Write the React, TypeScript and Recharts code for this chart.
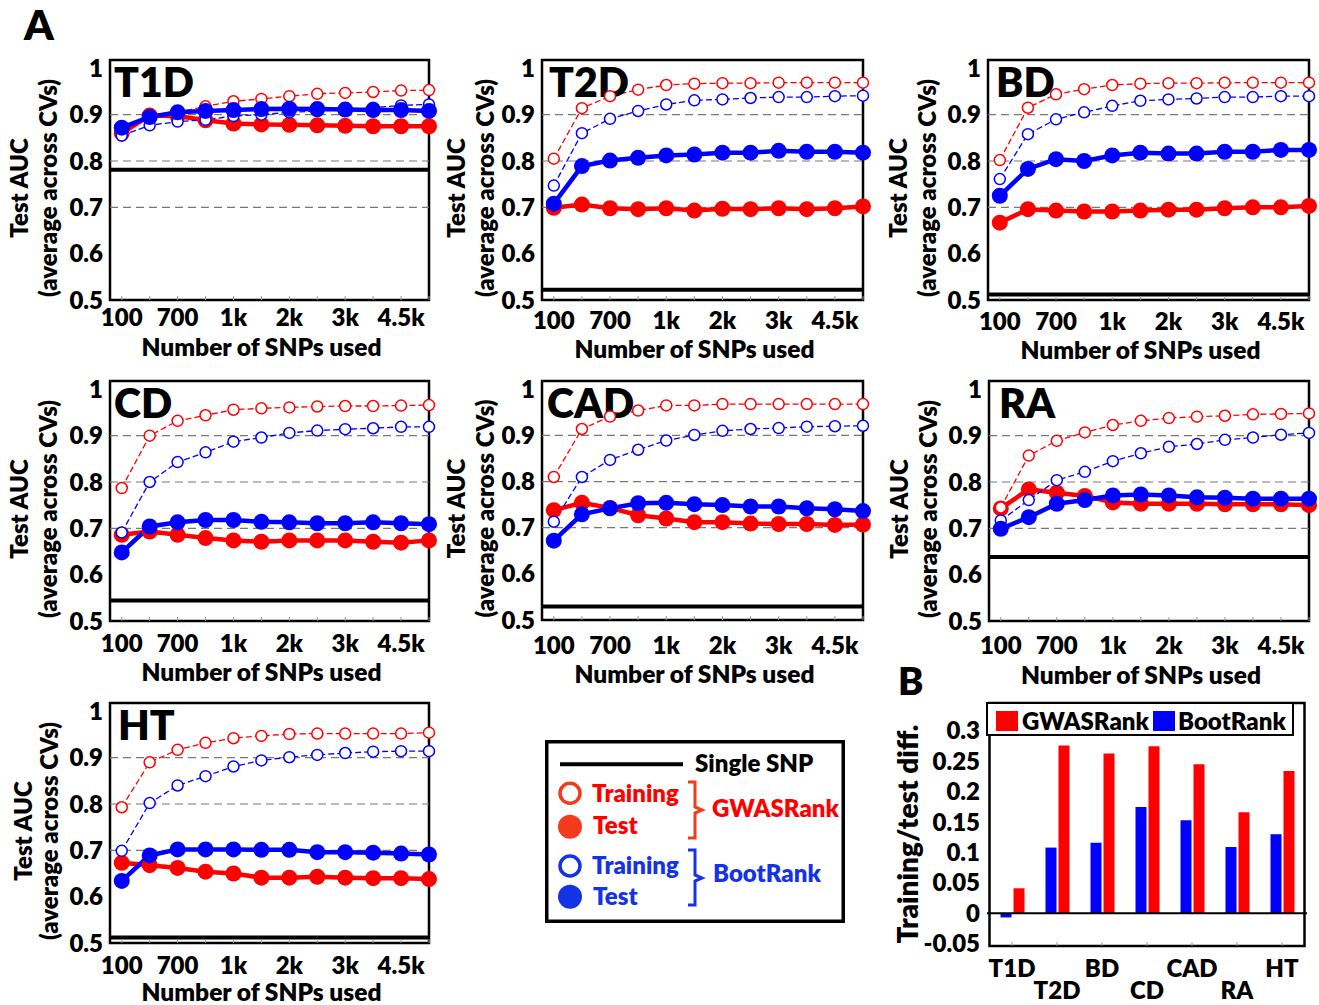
import React from 'react';
import { LineChart, Line, XAxis, YAxis, ReferenceLine, ReferenceArea, BarChart, Bar } from 'recharts';

const FONT = "Lato, 'Open Sans', sans-serif";
const FW = 800;
const RED = '#ff0000';
const BLUE = '#0000ff';

// ---------- data ----------
const snpIndex = [0, 1, 2, 3, 4, 5, 6, 7, 8, 9, 10, 11];
const xTickLabels = ['100', '', '700', '', '1k', '', '2k', '', '3k', '', '4.5k', ''];
const aucTicks = [0.5, 0.6, 0.7, 0.8, 0.9, 1];

const t1dGwasTrain = [0.855, 0.900, 0.905, 0.918, 0.929, 0.934, 0.940, 0.945, 0.947, 0.949, 0.952, 0.953];
const t1dGwasTest = [0.860, 0.898, 0.897, 0.888, 0.881, 0.879, 0.878, 0.877, 0.876, 0.875, 0.875, 0.875];
const t1dBootTrain = [0.855, 0.877, 0.885, 0.889, 0.897, 0.900, 0.905, 0.908, 0.910, 0.915, 0.920, 0.922];
const t1dBootTest = [0.872, 0.895, 0.905, 0.908, 0.910, 0.912, 0.913, 0.912, 0.911, 0.910, 0.910, 0.908];

const t2dGwasTrain = [0.805, 0.914, 0.940, 0.954, 0.964, 0.967, 0.968, 0.968, 0.969, 0.969, 0.969, 0.969];
const t2dGwasTest = [0.699, 0.706, 0.698, 0.696, 0.698, 0.693, 0.697, 0.696, 0.698, 0.696, 0.698, 0.702];
const t2dBootTrain = [0.747, 0.860, 0.891, 0.908, 0.922, 0.931, 0.933, 0.936, 0.938, 0.938, 0.940, 0.941];
const t2dBootTest = [0.708, 0.789, 0.801, 0.807, 0.812, 0.814, 0.818, 0.818, 0.822, 0.820, 0.820, 0.818];

const bdGwasTrain = [0.802, 0.915, 0.944, 0.955, 0.964, 0.967, 0.968, 0.968, 0.969, 0.969, 0.969, 0.969];
const bdGwasTest = [0.667, 0.696, 0.693, 0.691, 0.691, 0.693, 0.695, 0.695, 0.698, 0.700, 0.700, 0.703];
const bdBootTrain = [0.761, 0.858, 0.890, 0.905, 0.919, 0.930, 0.933, 0.935, 0.938, 0.938, 0.940, 0.940];
const bdBootTest = [0.725, 0.783, 0.804, 0.800, 0.812, 0.818, 0.816, 0.816, 0.820, 0.820, 0.824, 0.824];

const cdGwasTrain = [0.787, 0.900, 0.932, 0.944, 0.956, 0.959, 0.961, 0.963, 0.964, 0.964, 0.965, 0.966];
const cdGwasTest = [0.686, 0.693, 0.686, 0.679, 0.674, 0.671, 0.674, 0.674, 0.674, 0.671, 0.669, 0.674];
const cdBootTrain = [0.691, 0.800, 0.843, 0.864, 0.887, 0.896, 0.906, 0.911, 0.914, 0.916, 0.919, 0.919];
const cdBootTest = [0.648, 0.704, 0.713, 0.718, 0.718, 0.714, 0.713, 0.711, 0.711, 0.713, 0.711, 0.709];

const cadGwasTrain = [0.810, 0.914, 0.941, 0.954, 0.965, 0.965, 0.968, 0.968, 0.968, 0.968, 0.968, 0.968];
const cadGwasTest = [0.738, 0.754, 0.743, 0.727, 0.720, 0.712, 0.712, 0.709, 0.708, 0.708, 0.706, 0.707];
const cadBootTrain = [0.713, 0.810, 0.847, 0.869, 0.889, 0.901, 0.910, 0.914, 0.916, 0.919, 0.920, 0.921];
const cadBootTest = [0.672, 0.729, 0.742, 0.753, 0.754, 0.751, 0.749, 0.746, 0.746, 0.742, 0.740, 0.736];

const raGwasTrain = [0.745, 0.857, 0.889, 0.907, 0.923, 0.932, 0.938, 0.941, 0.943, 0.946, 0.947, 0.948];
const raGwasTest = [0.743, 0.784, 0.777, 0.770, 0.756, 0.753, 0.753, 0.753, 0.752, 0.752, 0.752, 0.750];
const raBootTrain = [0.717, 0.761, 0.804, 0.822, 0.845, 0.862, 0.876, 0.882, 0.891, 0.896, 0.902, 0.906];
const raBootTest = [0.699, 0.724, 0.753, 0.761, 0.771, 0.773, 0.771, 0.767, 0.766, 0.764, 0.764, 0.764];

const htGwasTrain = [0.793, 0.890, 0.917, 0.932, 0.942, 0.947, 0.951, 0.952, 0.952, 0.952, 0.952, 0.954];
const htGwasTest = [0.673, 0.668, 0.662, 0.654, 0.650, 0.641, 0.641, 0.643, 0.641, 0.640, 0.640, 0.638];
const htBootTrain = [0.699, 0.802, 0.840, 0.860, 0.881, 0.894, 0.901, 0.906, 0.910, 0.913, 0.914, 0.914];
const htBootTest = [0.634, 0.689, 0.702, 0.702, 0.702, 0.701, 0.701, 0.696, 0.696, 0.695, 0.693, 0.691];

const singleSnp = [0.781, 0.522, 0.512, 0.544, 0.529, 0.638, 0.512];

const diseases = ['T1D', 'T2D', 'BD', 'CD', 'CAD', 'RA', 'HT'];
const bootDiff = [-0.007, 0.108, 0.116, 0.175, 0.153, 0.109, 0.130];
const gwasDiff = [0.041, 0.276, 0.263, 0.275, 0.245, 0.166, 0.234];
const diffTicks = [-0.05, 0, 0.05, 0.1, 0.15, 0.2, 0.25, 0.3];

// ---------- layout ----------
type Panel = {
  name: string; x: number; y: number; w: number; h: number;
  gTrain: number[]; gTest: number[]; bTrain: number[]; bTest: number[]; single: number;
  lab1: number; lab2: number; titleDx: number; tickDy: number; labelDy: number;
};

const panels: Panel[] = [
  { name: 'T1D', x: 110, y: 60, w: 319, h: 240, gTrain: t1dGwasTrain, gTest: t1dGwasTest, bTrain: t1dBootTrain, bTest: t1dBootTest, single: singleSnp[0], lab1: -82, lab2: -53, titleDx: 4, tickDy: 17, labelDy: 47 },
  { name: 'T2D', x: 542, y: 60, w: 321, h: 240, gTrain: t2dGwasTrain, gTest: t2dGwasTest, bTrain: t2dBootTrain, bTest: t2dBootTest, single: singleSnp[1], lab1: -77, lab2: -48, titleDx: 7, tickDy: 20, labelDy: 49 },
  { name: 'BD', x: 988, y: 60, w: 321, h: 240, gTrain: bdGwasTrain, gTest: bdGwasTest, bTrain: bdBootTrain, bTest: bdBootTest, single: singleSnp[2], lab1: -81, lab2: -52, titleDx: 8, tickDy: 21, labelDy: 50 },
  { name: 'CD', x: 110, y: 381, w: 319, h: 240, gTrain: cdGwasTrain, gTest: cdGwasTest, bTrain: cdBootTrain, bTest: cdBootTest, single: singleSnp[3], lab1: -82, lab2: -53, titleDx: 4, tickDy: 22.5, labelDy: 51 },
  { name: 'CAD', x: 542, y: 381, w: 321, h: 239, gTrain: cadGwasTrain, gTest: cadGwasTest, bTrain: cadBootTrain, bTest: cadBootTest, single: singleSnp[4], lab1: -77, lab2: -48, titleDx: 5, tickDy: 25, labelDy: 54 },
  { name: 'RA', x: 989, y: 381, w: 320, h: 240, gTrain: raGwasTrain, gTest: raGwasTest, bTrain: raBootTrain, bTest: raBootTest, single: singleSnp[5], lab1: -81, lab2: -52, titleDx: 10, tickDy: 24, labelDy: 54 },
  { name: 'HT', x: 110, y: 703, w: 319, h: 240, gTrain: htGwasTrain, gTest: htGwasTest, bTrain: htBootTrain, bTest: htBootTest, single: singleSnp[6], lab1: -78, lab2: -52, titleDx: 8, tickDy: 22, labelDy: 49 },
];

const Y_W = 110;
const M_TOP = 10;
const X_H = 66;
const M_RIGHT = 14;
const TICK_FONT = { fontSize: 24, fontWeight: FW, fill: '#000', fontFamily: FONT };

function AucPanel({ p }: { p: Panel }) {
  const data = snpIndex.map((i) => ({
    i,
    gTrain: p.gTrain[i],
    gTest: p.gTest[i],
    bTrain: p.bTrain[i],
    bTest: p.bTest[i],
  }));
  const W = p.w + Y_W + M_RIGHT;
  const H = p.h + M_TOP + X_H;
  const cy = M_TOP + p.h / 2 + 8;
  const yLabel = () => (
    <g fontFamily={FONT} fontWeight={FW} fill="#000">
      <text x={Y_W + p.lab1} y={cy} transform={`rotate(-90 ${Y_W + p.lab1} ${cy})`} textAnchor="middle" fontSize={24}>Test AUC</text>
      <text x={Y_W + p.lab2} y={cy} transform={`rotate(-90 ${Y_W + p.lab2} ${cy})`} textAnchor="middle" fontSize={24}>(average across CVs)</text>
      <text x={Y_W + p.titleDx} y={M_TOP + 36.5} fontSize={41}>{p.name}</text>
    </g>
  );
  const xLabel = () => (
    <text x={Y_W + p.w / 2 - 8} y={M_TOP + p.h + p.labelDy + 8.5} textAnchor="middle" fontFamily={FONT} fontWeight={FW} fontSize={24.5} fill="#000">
      Number of SNPs used
    </text>
  );
  const openDot = (c: string) => ({ r: 5.5, fill: '#fff', stroke: c, strokeWidth: 1.5, strokeDasharray: 'none' });
  const fullDot = (c: string) => ({ r: 8, fill: c, stroke: c, strokeWidth: 0 });
  return (
    <div style={{ position: 'absolute', left: p.x - Y_W, top: p.y - M_TOP }}>
      <LineChart width={W} height={H} data={data} margin={{ top: M_TOP, right: M_RIGHT, left: 0, bottom: 0 }}>
        <ReferenceArea y1={0.5} y2={1.018} fill="none" stroke="#000" strokeWidth={2.5} ifOverflow="visible" />
        <XAxis
          type="number"
          dataKey="i"
          domain={[-0.42, 11]}
          ticks={snpIndex}
          interval={0}
          tickFormatter={(v: number) => xTickLabels[v] ?? ''}
          height={X_H}
          axisLine={false}
          tickLine={{ stroke: '#999', strokeWidth: 1 }}
          tickSize={-4}
          tickMargin={p.tickDy - 8.4 + 4}
          tick={TICK_FONT}
          label={xLabel}
        />
        <YAxis
          type="number"
          domain={[0.5, 1.018]}
          ticks={aucTicks}
          interval={0}
          tickFormatter={(v: number) => (v === 1 ? '1' : v.toFixed(1))}
          width={Y_W}
          axisLine={false}
          tickLine={false}
          tickSize={0}
          tickMargin={7}
          tick={TICK_FONT}
          label={yLabel}
        />
        <ReferenceLine y={0.9} stroke="#777" strokeDasharray="8 5" strokeWidth={1.2} />
        <ReferenceLine y={0.8} stroke="#777" strokeDasharray="8 5" strokeWidth={1.2} />
        <ReferenceLine y={0.7} stroke="#777" strokeDasharray="8 5" strokeWidth={1.2} />
        <ReferenceLine y={p.single} stroke="#000" strokeWidth={4} />
        <Line dataKey="gTest" stroke={RED} strokeWidth={4.5} dot={fullDot(RED)} activeDot={false} isAnimationActive={false} />
        <Line dataKey="gTrain" stroke={RED} strokeWidth={1.3} strokeDasharray="6 3" dot={openDot(RED)} activeDot={false} isAnimationActive={false} />
        <Line dataKey="bTrain" stroke={BLUE} strokeWidth={1.3} strokeDasharray="6 3" dot={openDot(BLUE)} activeDot={false} isAnimationActive={false} />
        <Line dataKey="bTest" stroke={BLUE} strokeWidth={4.5} dot={fullDot(BLUE)} activeDot={false} isAnimationActive={false} />
      </LineChart>
    </div>
  );
}

const B_X = 987;
const B_Y = 703;
const B_W = 320;
const B_H = 243;
const B_YW = 110;
const B_TOP = 5;
const B_XH = 60;
const B_R = 10;

function DiseaseTick(props: any) {
  const { x, y, payload, index } = props;
  const idx = typeof index === 'number' ? index : diseases.indexOf(payload.value);
  const dy = idx % 2 === 0 ? 22 : 44;
  return (
    <text x={x} y={y + 4 + dy + 8.5} textAnchor="middle" fontFamily={FONT} fontWeight={FW} fontSize={24} fill="#000">
      {payload.value}
    </text>
  );
}

function DiffChart() {
  const data = diseases.map((d, i) => ({ disease: d, boot: bootDiff[i], gwas: gwasDiff[i] }));
  const cy = B_TOP + 131;
  const lx = 41;
  const overlay = () => (
    <g fontFamily={FONT} fontWeight={FW}>
      <text x={lx} y={cy} transform={`rotate(-90 ${lx} ${cy})`} textAnchor="middle" fontSize={28} fill="#000">Training/test diff.</text>
      <rect x={B_YW} y={B_TOP} width={306} height={32} fill="#fff" stroke="#000" strokeWidth={2} />
      <rect x={B_YW + 9} y={B_TOP + 8} width={22} height={20} fill={RED} />
      <text x={B_YW + 35} y={B_TOP + 27} fontSize={24} fill="#000">GWASRank</text>
      <rect x={B_YW + 166} y={B_TOP + 8} width={22} height={20} fill={BLUE} />
      <text x={B_YW + 191} y={B_TOP + 27} fontSize={24} fill="#000">BootRank</text>
    </g>
  );
  return (
    <div style={{ position: 'absolute', left: B_X - B_YW, top: B_Y - B_TOP }}>
      <BarChart width={B_W + B_YW + B_R} height={B_H + B_TOP + B_XH} data={data} margin={{ top: B_TOP, right: B_R, left: 0, bottom: 0 }} barSize={11} barGap={2}>
        <ReferenceArea y1={-0.054} y2={0.346} fill="none" stroke="#000" strokeWidth={2.5} ifOverflow="visible" />
        <XAxis
          dataKey="disease"
          type="category"
          padding={{ left: 2.5, right: 2.5 }}
          height={B_XH}
          interval={0}
          axisLine={false}
          tickLine={{ stroke: '#999', strokeWidth: 1 }}
          tickSize={-4}
          tickMargin={0}
          tick={DiseaseTick}
        />
        <YAxis
          type="number"
          domain={[-0.054, 0.346]}
          ticks={diffTicks}
          interval={0}
          tickFormatter={(v: number) => String(parseFloat(v.toFixed(2)))}
          width={B_YW}
          axisLine={false}
          tickLine={false}
          tickSize={0}
          tickMargin={7}
          tick={TICK_FONT}
          label={overlay}
        />
        <ReferenceLine y={0} stroke="#000" strokeWidth={2} />
        <Bar dataKey="boot" fill={BLUE} isAnimationActive={false} />
        <Bar dataKey="gwas" fill={RED} isAnimationActive={false} />
      </BarChart>
    </div>
  );
}

function LegendBox() {
  const LR = '#f23a1c';
  const LB = '#1533e6';
  return (
    <g fontFamily={FONT} fontWeight={FW} fontSize={24}>
      <rect x={546.75} y={741.75} width={296.5} height={179.5} fill="#fff" stroke="#000" strokeWidth={3.5} />
      <line x1={560} x2={683} y1={764.3} y2={764.3} stroke="#000" strokeWidth={4} />
      <text x={695} y={772} fill="#000">Single SNP</text>
      <circle cx={570} cy={793.3} r={10} fill="#fff" stroke={LR} strokeWidth={3.5} />
      <text x={592} y={802} fill={RED}>Training</text>
      <circle cx={570} cy={826.7} r={12} fill={LR} />
      <text x={593} y={834} fill={RED}>Test</text>
      <path d="M 688 782 H 695 V 807 L 702 810 L 695 813 V 838 H 688" fill="none" stroke={LR} strokeWidth={3} />
      <text x={712} y={817} fill={RED}>GWASRank</text>
      <circle cx={570} cy={866} r={10} fill="#fff" stroke={LB} strokeWidth={3.5} />
      <text x={592} y={874} fill={LB}>Training</text>
      <circle cx={570} cy={896.7} r={12} fill={LB} />
      <text x={593} y={905} fill={LB}>Test</text>
      <path d="M 688 850 H 695 V 875 L 702 878 L 695 881 V 905 H 688" fill="none" stroke={LB} strokeWidth={3} />
      <text x={713} y={882} fill={LB}>BootRank</text>
    </g>
  );
}

export default function App() {
  return (
    <div style={{ position: 'absolute', left: 0, top: 0, width: 1319, height: 1005, background: '#fff', overflow: 'hidden' }}>
      <svg width={1319} height={1005} style={{ position: 'absolute', left: 0, top: 0 }}>
        <text x={24} y={40} fontFamily={FONT} fontWeight={FW} fontSize={42} fill="#000">A</text>
        <text x={898} y={695} fontFamily={FONT} fontWeight={FW} fontSize={38} fill="#000">B</text>
        <LegendBox />
      </svg>
      {panels.map((p) => (
        <AucPanel key={p.name} p={p} />
      ))}
      <DiffChart />
    </div>
  );
}
